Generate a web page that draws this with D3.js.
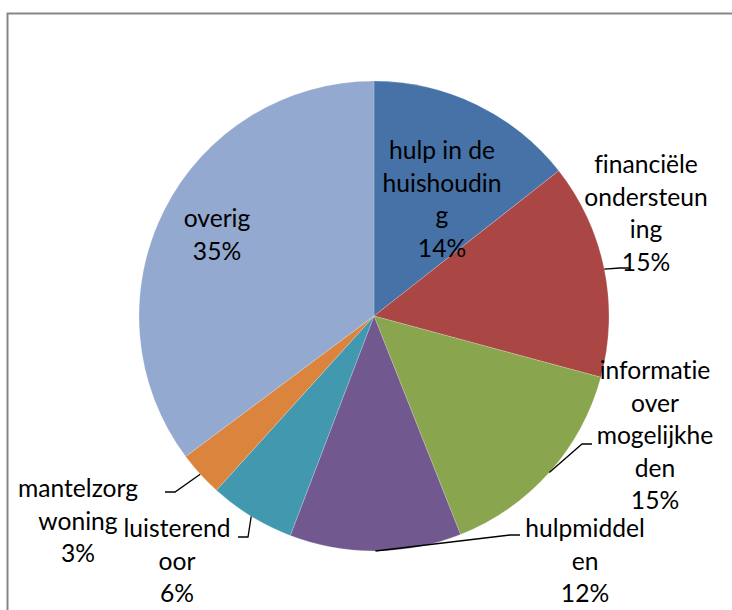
<!DOCTYPE html>
<html>
<head>
<meta charset="utf-8">
<script src="https://cdn.jsdelivr.net/npm/d3@7"></script>
<style>
  html, body { margin: 0; padding: 0; background: #fff; }
  svg { display: block; }
  text { font-variant-ligatures: none; font-feature-settings: "liga" 0, "clig" 0, "dlig" 0; }
</style>
</head>
<body>
<svg id="chart" width="732" height="610"></svg>
<script>
// ---- data ----
const categories = ["hulp in de huishouding", "financiële ondersteuning", "informatie over mogelijkheden",
                    "hulpmiddelen", "luisterend oor", "mantelzorgwoning", "overig"];
const values = [14.4, 14.8, 14.8, 11.8, 5.9, 3.1, 35.2];
const percentLabels = ["14%", "15%", "15%", "12%", "6%", "3%", "35%"];
const labelLines = [
  ["hulp in de", "huishoudin", "g"],
  ["financiële", "ondersteun", "ing"],
  ["informatie", "over", "mogelijkhe", "den"],
  ["hulpmiddel", "en"],
  ["luisterend", "oor"],
  ["mantelzorg", "woning"],
  ["overig"]
];
const colors = ["#4672A7", "#AA4643", "#89A54E", "#71588F", "#4198AF", "#DB843D", "#93A9CF"];

// ---- layout (label placement, like the hand-placed labels of the original) ----
const labelPos = [
  {x: 442, y: 159, leader: null},
  {x: 646, y: 173, leader: [[620, 268], [630, 268]]},
  {x: 655, y: 379, leader: [[582, 444], [592, 444]]},
  {x: 585, y: 537, leader: [[510, 535], [520, 535]]},
  {x: 177, y: 537, leader: [[248, 537], [238, 537]]},
  {x: 78,  y: 497, leader: [[175, 492], [165, 492]]},
  {x: 217, y: 227, leader: null}
];
const lineH = 32.6;

const svg = d3.select("#chart");
const cx = 374, cy = 316, R = 235;

// frame
svg.append("rect")
  .attr("x", 7.5).attr("y", 13.5).attr("width", 760).attr("height", 640)
  .attr("fill", "none").attr("stroke", "#878787").attr("stroke-width", 2);

const pie = d3.pie().sort(null).value(d => d)(values);
const arc = d3.arc().innerRadius(0).outerRadius(R);

const g = svg.append("g").attr("transform", `translate(${cx},${cy})`);
g.selectAll("path.slice").data(pie).join("path")
  .attr("class", "slice")
  .attr("d", arc)
  .attr("fill", (d, i) => colors[i])
  .attr("stroke", "rgba(255,255,255,0.4)")
  .attr("stroke-width", 0.5);

// font sizing to mimic Calibri 20pt widths
const fontFamily = "Lato, 'Liberation Sans', sans-serif";
const probe = svg.append("text").attr("font-family", fontFamily).attr("font-size", 100).text("huishoudin");
const w100 = probe.node().getComputedTextLength();
probe.remove();
const fontSize = Math.max(18, Math.min(30, 119 / w100 * 100));

// leader lines
pie.forEach((d, i) => {
  const lp = labelPos[i];
  if (!lp.leader) return;
  const mid = (d.startAngle + d.endAngle) / 2;
  const sx = cx + R * Math.sin(mid), sy = cy - R * Math.cos(mid);
  const pts = [[sx, sy], ...lp.leader];
  svg.append("path")
    .attr("d", d3.line()(pts))
    .attr("fill", "none")
    .attr("stroke", "#000")
    .attr("stroke-width", 1.3);
});

// labels
pie.forEach((d, i) => {
  const lp = labelPos[i];
  const lines = labelLines[i].concat([percentLabels[i]]);
  const t = svg.append("text")
    .attr("font-family", fontFamily)
    .attr("font-size", fontSize)
    .attr("fill", "#000")
    .attr("text-anchor", "middle");
  lines.forEach((ln, k) => {
    t.append("tspan").attr("x", lp.x).attr("y", lp.y + k * lineH).text(ln);
  });
});
</script>
</body>
</html>
